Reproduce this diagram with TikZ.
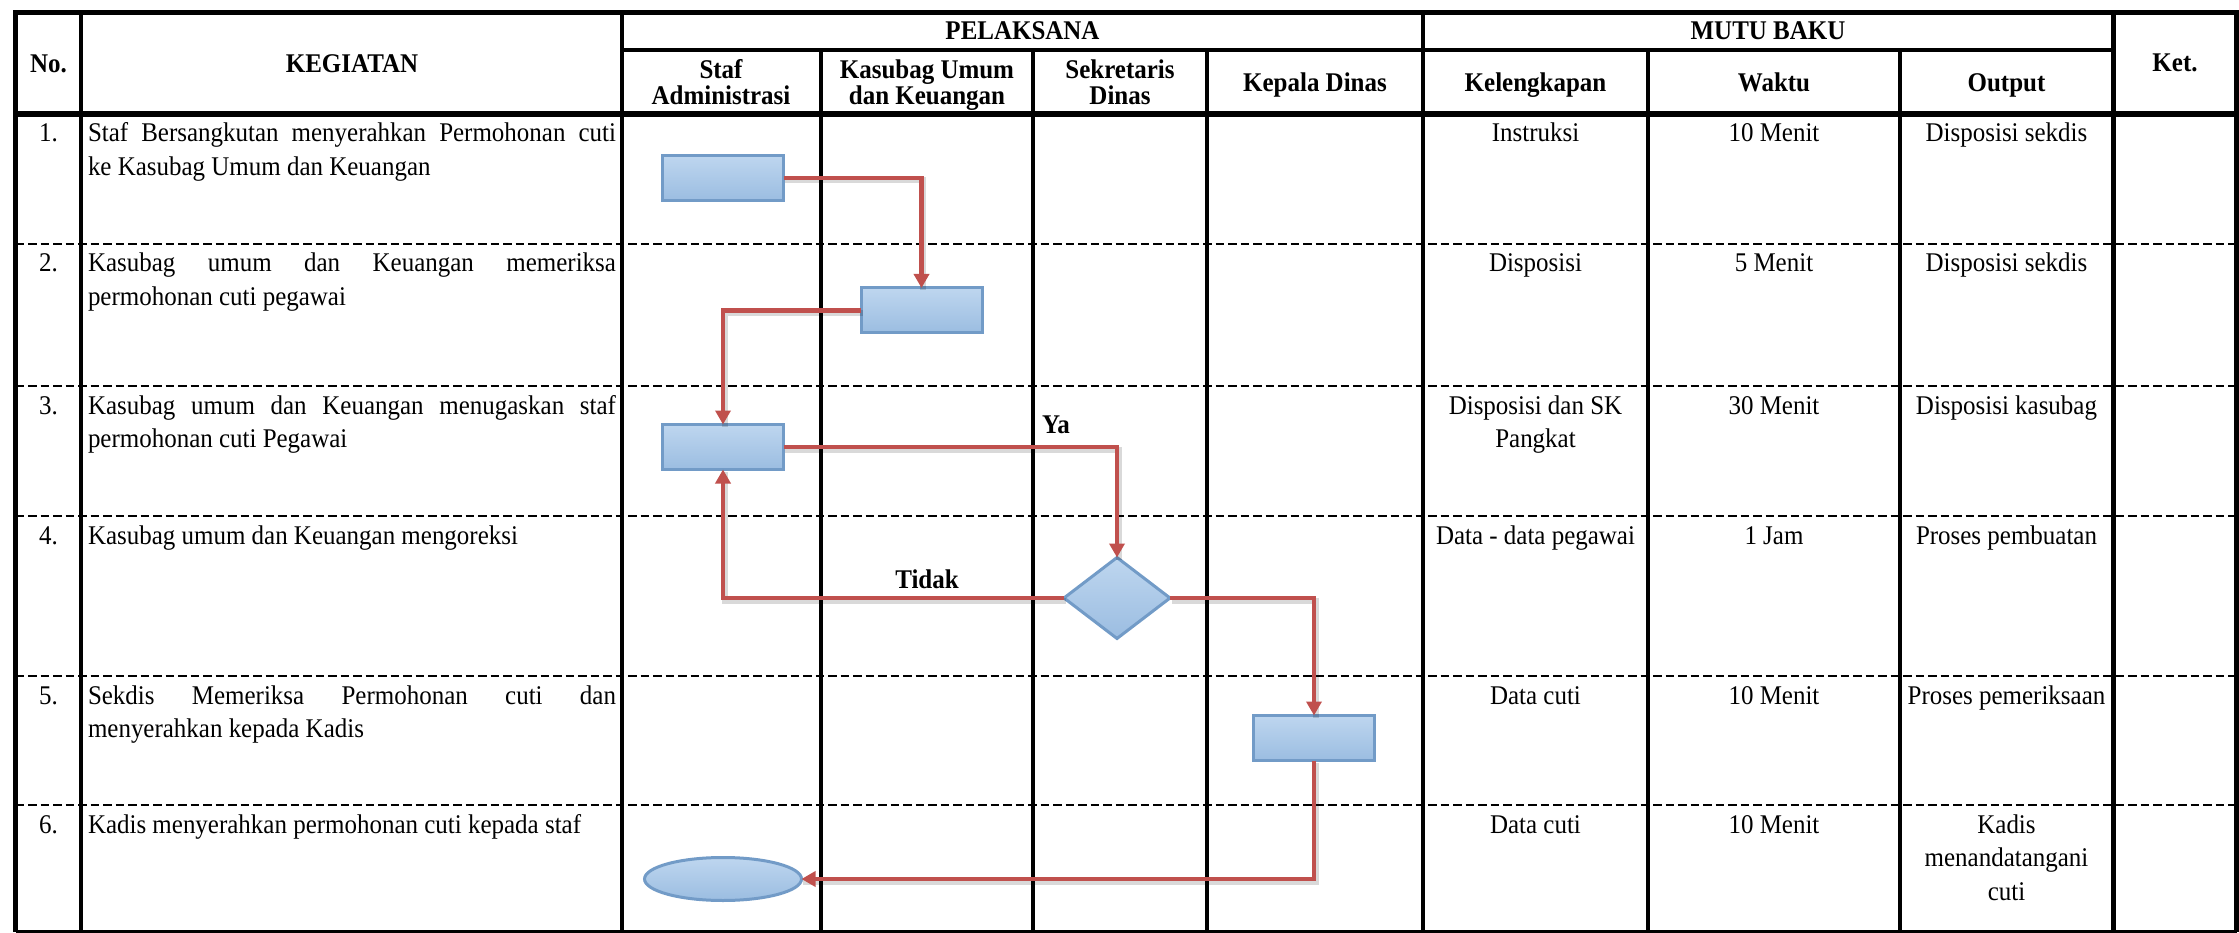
\documentclass[tikz,border=0pt]{standalone}
\usepackage{fontspec}
\setmainfont{Liberation Serif}[FakeStretch=0.925]
\usetikzlibrary{arrows.meta,shapes.geometric}

\definecolor{flowred}{RGB}{192,80,77}
\definecolor{boxtop}{RGB}{190,214,239}
\definecolor{boxbot}{RGB}{155,189,225}
\definecolor{boxline}{RGB}{114,155,199}

\newcommand\cellfont{\fontsize{27}{33.5}\selectfont}
\newcommand\kegtext[1]{\parbox[t]{528pt}{\cellfont\hyphenpenalty=10000 #1}}
\newcommand\midtext[2]{\parbox[t]{#1}{\centering\cellfont #2}}
\newcommand\headtext[2]{\parbox[t]{#1}{\centering\fontsize{27}{26}\selectfont\bfseries #2}}
\newcommand\flowpath[1]{\draw[flowshadow] #1; \draw[flow] #1;}

\begin{document}
\begin{tikzpicture}[x=1pt,y=-1pt,
  every node/.style={inner sep=0pt, outer sep=0pt},
  thick line/.style={line width=5.5pt},
  grid line/.style={line width=3.2pt},
  group line/.style={line width=4.4pt},
  row line/.style={line width=2.8pt, dash pattern=on 8.5pt off 4pt},
  head/.style={font=\fontsize{27}{26}\selectfont\bfseries, anchor=base},
  cell/.style={font=\cellfont, anchor=base},
  shapefill/.style={draw=boxline, line width=3pt, top color=boxtop, bottom color=boxbot},
  procbox/.style={shapefill, rectangle, minimum width=121pt, minimum height=45pt},
  decision/.style={shapefill, diamond, minimum width=106pt, minimum height=81pt},
  terminal/.style={shapefill, ellipse, minimum width=157pt, minimum height=43pt},
  flow/.style={draw=flowred, line width=4.3pt, -{Triangle[length=14pt,width=15pt]}},
  flowshadow/.style={draw=black, opacity=0.15, line width=6pt,
    transform canvas={shift={(1.5pt,-2.5pt)}}},
]
\useasboundingbox (0,0) rectangle (2239,933);

% dashed separators between the activity rows
\foreach \y in {244,386,516,676,805}
  \draw[row line] (15.5,\y) -- (2236.5,\y);

% column rules
\draw[grid line] (81,12.5) -- (81,932);
\foreach \x in {622,1423,2113.5}
  \draw[group line] (\x,12.5) -- (\x,932);
\foreach \x in {821,1033,1207,1648,1900}
  \draw[grid line] (\x,50) -- (\x,932);
\draw[grid line] (622,50) -- (2113.5,50);
\draw[thick line] (15.5,114) -- (2236.5,114);
\draw[grid line] (15.5,931.5) -- (2236.5,931.5);
\draw[thick line] (15.5,932) -- (15.5,12.5) -- (2236.5,12.5) -- (2236.5,932);

% header
\node[head] (hno)   at (48.5,73)  {No.};
\node[head] (hkeg)  at (352,73)   {KEGIATAN};
\node[head] (hpel)  at (1022.5,40) {PELAKSANA};
\node[head] (hmutu) at (1768,40)  {MUTU BAKU};
\node[head] (hket)  at (2175,72)  {Ket.};
\node[anchor=base] (hstaf) at (721,79)  {\headtext{190pt}{Staf\\Administrasi}};
\node[anchor=base] (hkasu) at (927,79)  {\headtext{200pt}{Kasubag Umum\\dan Keuangan}};
\node[anchor=base] (hsek)  at (1120,79) {\headtext{170pt}{Sekretaris\\Dinas}};
\node[head] (hkep)  at (1315,92)   {Kepala Dinas};
\node[head] (hkel)  at (1535.5,92) {Kelengkapan};
\node[head] (hwak)  at (1774,92)   {Waktu};
\node[head] (hout)  at (2006.5,92) {Output};

% row numbers
\node[cell] (n1) at (48.5,142) {1.};
\node[cell] (n2) at (48.5,272) {2.};
\node[cell] (n3) at (48.5,414) {3.};
\node[cell] (n4) at (48.5,544) {4.};
\node[cell] (n5) at (48.5,704) {5.};
\node[cell] (n6) at (48.5,833) {6.};

% activities
\node[anchor=base west] (k1) at (88,142) {\kegtext{Staf Bersangkutan menyerahkan Permohonan cuti\linebreak ke Kasubag Umum dan Keuangan}};
\node[anchor=base west] (k2) at (88,272) {\kegtext{Kasubag umum dan Keuangan memeriksa\linebreak permohonan cuti pegawai}};
\node[anchor=base west] (k3) at (88,414) {\kegtext{Kasubag umum dan Keuangan menugaskan staf\linebreak permohonan cuti Pegawai}};
\node[anchor=base west] (k4) at (88,544) {\kegtext{Kasubag umum dan Keuangan mengoreksi}};
\node[anchor=base west] (k5) at (88,704) {\kegtext{Sekdis Memeriksa Permohonan cuti dan\linebreak menyerahkan kepada Kadis}};
\node[anchor=base west] (k6) at (88,833) {\kegtext{Kadis menyerahkan permohonan cuti kepada staf}};

% quality standards: Kelengkapan
\node[cell] (l1) at (1535.5,142) {Instruksi};
\node[cell] (l2) at (1535.5,272) {Disposisi};
\node[anchor=base] (l3) at (1535.5,414) {\midtext{215pt}{Disposisi dan SK\\Pangkat}};
\node[cell] (l4) at (1535.5,544) {Data - data pegawai};
\node[cell] (l5) at (1535.5,704) {Data cuti};
\node[cell] (l6) at (1535.5,833) {Data cuti};

% Waktu
\node[cell] (w1) at (1774,142) {10 Menit};
\node[cell] (w2) at (1774,272) {5 Menit};
\node[cell] (w3) at (1774,414) {30 Menit};
\node[cell] (w4) at (1774,544) {1 Jam};
\node[cell] (w5) at (1774,704) {10 Menit};
\node[cell] (w6) at (1774,833) {10 Menit};

% Output
\node[cell] (o1) at (2006.5,142) {Disposisi sekdis};
\node[cell] (o2) at (2006.5,272) {Disposisi sekdis};
\node[cell] (o3) at (2006.5,414) {Disposisi kasubag};
\node[cell] (o4) at (2006.5,544) {Proses pembuatan};
\node[cell] (o5) at (2006.5,704) {Proses pemeriksaan};
\node[anchor=base] (o6) at (2006.5,833) {\midtext{210pt}{Kadis\\menandatangani\\cuti}};

% flowchart symbols
\node[procbox]  (b1) at (723,178)     {};
\node[procbox]  (b2) at (921.5,310.5) {};
\node[procbox]  (b3) at (723,447)     {};
\node[decision] (d1) at (1117,598)    {};
\node[procbox]  (b4) at (1314,738)    {};
\node[terminal] (t1) at (723,879)     {};

% connectors
\flowpath{(b1.east) -| (b2.north)}
\flowpath{(b2.west) -| (b3.north)}
\flowpath{(b3.east) -| (d1.north)}
\flowpath{(d1.west) -| (b3.south)}
\flowpath{(d1.east) -| (b4.north)}
\flowpath{(b4.south) |- (t1.east)}

\node[font=\cellfont\bfseries, anchor=base] (ya)    at (1056,433) {Ya};
\node[font=\cellfont\bfseries, anchor=base] (tidak) at (927,588)  {Tidak};
\end{tikzpicture}
\end{document}
